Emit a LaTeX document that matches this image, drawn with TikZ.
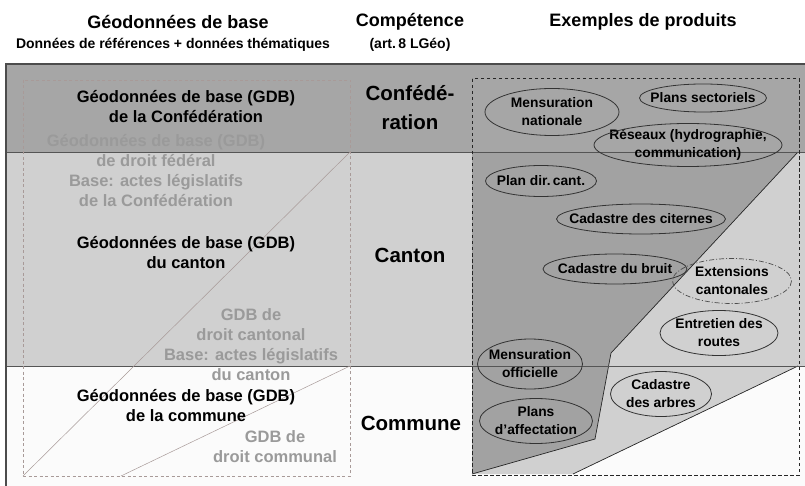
\documentclass[tikz,border=0pt]{standalone}
\usepackage{fontspec}
\setmainfont{Liberation Sans}
\usetikzlibrary{shapes.geometric}
\definecolor{confc}{HTML}{A6A6A6}
\definecolor{cantc}{HTML}{D0D0D0}
\definecolor{commc}{HTML}{FBFBFB}
\definecolor{darkpoly}{HTML}{A2A2A2}
\definecolor{graytext}{HTML}{9A9A9A}
\definecolor{boxgray}{HTML}{A89A98}
\definecolor{linec}{HTML}{555555}
\tikzset{
  head/.style={font=\fontsize{18}{21}\selectfont\bfseries, inner sep=0pt},
  subhead/.style={font=\fontsize{14}{16}\selectfont\bfseries, inner sep=0pt},
  level/.style={font=\fontsize{20.5}{29}\selectfont\bfseries, align=center, inner sep=0pt},
  gdb/.style={font=\fontsize{16.5}{20}\selectfont\bfseries, align=center, inner sep=0pt},
  gdbgray/.style={gdb, text=graytext},
  prod/.style={font=\fontsize{13.8}{18}\selectfont\bfseries, align=center, inner sep=0pt},
  ell/.style={draw=black!80, line width=0.8pt},
  ellext/.style={draw=black!70, line width=0.7pt, dash pattern=on 5pt off 2pt on 1pt off 2pt},
}
\begin{document}
\begin{tikzpicture}[x=1pt,y=-1pt]
\useasboundingbox (0,0) rectangle (805,486);
\fill[white] (0,0) rectangle (805,486);
% bands
\fill[confc] (6,64) rectangle (805,152);
\fill[cantc] (6,152) rectangle (805,366);
\fill[commc] (6,366) rectangle (805,486);
% product area polygons
\fill[cantc] (473,366) -- (798,366) -- (573,474) -- (473,474) -- cycle;
\fill[darkpoly] (472,152) -- (798,152) -- (611,353) -- (595,439) -- (472,474) -- cycle;
\coordinate (p1) at (798,152);
\coordinate (p2) at (611,353);
\coordinate (p3) at (595,439);
\coordinate (p4) at (472,474);
\coordinate (q1) at (798,366);
\coordinate (q2) at (573,474);
\draw[line width=0.7pt, black!85] (p1) -- (p2) -- (p3) -- (p4);
\draw[line width=0.7pt, black!85] (q1) -- (q2);
% band lines
\coordinate (b1l) at (6,152); \coordinate (b1r) at (805,152);
\coordinate (b2l) at (6,366); \coordinate (b2r) at (805,366);
\draw[linec, line width=0.8pt] (b1l) -- (b1r);
\draw[linec, line width=0.8pt] (b2l) -- (b2r);
\coordinate (tl) at (6,64); \coordinate (tr) at (805,64); \coordinate (bl) at (6,486);
\draw[black!70, line width=1.6pt] (bl) -- (tl) -- (tr);
% left dashed box and diagonals
\coordinate (lb1) at (23,80); \coordinate (lb2) at (350,476);
\draw[boxgray, line width=0.7pt, dash pattern=on 3pt off 2.5pt] (lb1) rectangle (lb2);
\coordinate (d1a) at (23,476); \coordinate (d1b) at (350,152);
\coordinate (d2a) at (121,476); \coordinate (d2b) at (350,366);
\draw[boxgray, line width=0.5pt] (d1a) -- (d1b);
\draw[boxgray, line width=0.5pt] (d2a) -- (d2b);
% right dashed box
\coordinate (rb1) at (472,79); \coordinate (rb2) at (799,475);
\draw[black!85, line width=1pt, dash pattern=on 3.5pt off 2.5pt] (rb1) rectangle (rb2);
% headers
\node[head] (h1) at (178,22) {Géodonnées de base};
\node[subhead] (h1s) at (173,45) {Données de références + données thématiques};
\node[head] (h2) at (410,22) {Compétence};
\node[subhead] (h2s) at (410,45) {(art.\,8 LGéo)};
\node[head] (h3) at (643,22) {Exemples de produits};
% levels
\node[level] (lc) at (410,108) {Confédé-\\ration};
\node[level] (lk) at (410,255) {Canton};
\node[level] (lm) at (411,423) {Commune};
% left texts
\node[gdb] (g1) at (186,107) {Géodonnées de base (GDB)\\de la Confédération};
\node[gdbgray] (g1f) at (156,171) {Géodonnées de base (GDB)\\de droit fédéral\\Base: actes législatifs\\de la Confédération};
\node[gdb] (g2) at (186,253) {Géodonnées de base (GDB)\\du canton};
\node[gdbgray] (g2f) at (251,345) {GDB de\\droit cantonal\\Base: actes législatifs\\du canton};
\node[gdb] (g3) at (186,406) {Géodonnées de base (GDB)\\de la commune};
\node[gdbgray] (g3f) at (275,447) {GDB de\\droit communal};
% products
\node[prod] (e1) at (552,112) {Mensuration\\nationale};
\draw[ell] (e1.center) ellipse [x radius=67, y radius=23.5];
\node[prod] (e2) at (703,98) {Plans sectoriels};
\draw[ell] (e2.center) ellipse [x radius=63.5, y radius=14];
\node[prod] (e3) at (688,145) {Réseaux (hydrographie,\\communication)};
\draw[ell] (e3.center) ellipse [x radius=94, y radius=21.5];
\node[prod] (e4) at (541,181) {Plan dir.\,cant.};
\draw[ell] (e4.center) ellipse [x radius=55.5, y radius=15.5];
\node[prod] (e5) at (641,219) {Cadastre des citernes};
\draw[ell] (e5.center) ellipse [x radius=84.5, y radius=15];
\node[prod] (e6) at (615,269) {Cadastre du bruit};
\draw[ell] (e6.center) ellipse [x radius=72, y radius=15];
\node[prod] (e7) at (732,281) {Extensions\\cantonales};
\draw[ellext] (e7.center) ellipse [x radius=59.5, y radius=22.5];
\node[prod] (e8) at (719,333) {Entretien des\\routes};
\draw[ell] (e8.center) ellipse [x radius=59, y radius=22.5];
\node[prod] (e9) at (530,364) {Mensuration\\officielle};
\draw[ell] (e9.center) ellipse [x radius=52.5, y radius=25];
\node[prod] (e10) at (661,394) {Cadastre\\des arbres};
\draw[ell] (e10.center) ellipse [x radius=50.5, y radius=22.5];
\node[prod] (e11) at (536,421) {Plans\\d'affectation};
\draw[ell] (e11.center) ellipse [x radius=56.5, y radius=22.5];
\end{tikzpicture}
\end{document}
